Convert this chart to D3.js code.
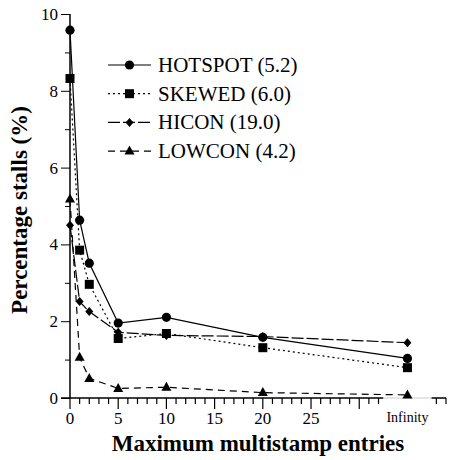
<!DOCTYPE html>
<html>
<head>
<meta charset="utf-8">
<script src="https://cdn.jsdelivr.net/npm/d3@7"></script>
<style>
    body { margin: 0; background: #fff; }
    svg { display: block; }
</style>
</head>
<body>
<div id="chart"></div>
<script>
// x positions: 0..20 real, "Infinity" placed at 35
const xValues = [0, 1, 2, 5, 10, 20, 35];
const hotspot = [9.58, 4.63, 3.51, 1.95, 2.10, 1.58, 1.03];
const skewed = [8.32, 3.85, 2.96, 1.55, 1.68, 1.31, 0.79];
const hicon = [4.50, 2.51, 2.25, 1.71, 1.63, 1.60, 1.44];
const lowcon = [5.18, 1.06, 0.51, 0.25, 0.28, 0.14, 0.08];
const seriesNames = ['HOTSPOT (5.2)', 'SKEWED (6.0)', 'HICON (19.0)', 'LOWCON (4.2)'];
const xTickLabels = ['0', '5', '10', '15', '20', '25', 'Infinity'];
const yTickLabels = ['0', '2', '4', '6', '8', '10'];

const FONT = '"Liberation Serif", "Times New Roman", serif';
const W = 455, H = 460;
const svg = d3.select('#chart').append('svg').attr('width', W).attr('height', H);

const x = d3.scaleLinear().domain([0, 39]).range([70, 446]);
const y = d3.scaleLinear().domain([0, 10]).range([398, 14]);

// y axis: minor ticks every 1, labels every 2
const yAxis = d3.axisLeft(y).tickValues(d3.range(0, 11, 1)).tickSize(5)
    .tickFormat(d => (d % 2 === 0 ? yTickLabels[d / 2] : ''));
const gy = svg.append('g').attr('transform', `translate(${x(0)},0)`).call(yAxis);
gy.attr('font-family', FONT).attr('font-size', 17);
gy.selectAll('.tick line').attr('x2', d => (d % 2 === 0 ? -9 : -5));
gy.selectAll('.tick text').attr('x', -12);
gy.select('.domain').attr('d', `M0,${y(0)}V${y(10)}`).attr('stroke-width', 1.5);

// x axis: minor ticks every 1, gap before infinity
const xTickVals = d3.range(0, 33, 1).concat([38, 39]);
const gx = svg.append('g').attr('transform', `translate(0,${y(0)})`);
gx.append('line').attr('x1', x(0) - 9).attr('x2', x(32.5)).attr('y1', 0).attr('y2', 0)
    .attr('stroke', '#000').attr('stroke-width', 1.5);
gx.append('line').attr('x1', x(32.5)).attr('x2', x(37.5)).attr('y1', 0).attr('y2', 0)
    .attr('stroke', '#ccc').attr('stroke-width', 1);
gx.append('line').attr('x1', x(37.5)).attr('x2', x(39)).attr('y1', 0).attr('y2', 0)
    .attr('stroke', '#000').attr('stroke-width', 1.5);
gx.selectAll('line.tk').data(xTickVals).enter().append('line').attr('class', 'tk')
    .attr('x1', d => x(d)).attr('x2', d => x(d))
    .attr('y1', 0).attr('y2', d => (d % 5 === 0 && d <= 30 ? 11 : 6))
    .attr('stroke', '#000').attr('stroke-width', 1.2);
const xLabPos = [0, 5, 10, 15, 20, 25, 35];
gx.selectAll('text.lb').data(xLabPos).enter().append('text').attr('class', 'lb')
    .attr('x', d => x(d)).attr('y', (d, i) => (i === 6 ? 24 : 26))
    .attr('text-anchor', 'middle').attr('font-family', FONT)
    .attr('font-size', (d, i) => (i === 6 ? 14 : 17))
    .text((d, i) => xTickLabels[i]);

// axis titles
svg.append('text').attr('x', 258).attr('y', 451).attr('text-anchor', 'middle')
    .attr('font-family', FONT).attr('font-size', 23).attr('font-weight', 'bold')
    .text('Maximum multistamp entries');
svg.append('text').attr('transform', 'translate(27,210) rotate(-90)').attr('text-anchor', 'middle')
    .attr('font-family', FONT).attr('font-size', 23).attr('font-weight', 'bold')
    .text('Percentage stalls (%)');

const series = [
    { name: seriesNames[0], values: hotspot, dash: null, marker: 'circle' },
    { name: seriesNames[1], values: skewed, dash: '2,3', marker: 'square' },
    { name: seriesNames[2], values: hicon, dash: '12,3', marker: 'diamond' },
    { name: seriesNames[3], values: lowcon, dash: '7,5', marker: 'triangle' }
];

function drawMarker(g, type, cx, cy) {
    if (type === 'circle') {
        g.append('circle').attr('cx', cx).attr('cy', cy).attr('r', 4.6).attr('fill', '#000');
    } else if (type === 'square') {
        g.append('rect').attr('x', cx - 4.5).attr('y', cy - 4.5).attr('width', 9).attr('height', 9).attr('fill', '#000');
    } else if (type === 'diamond') {
        g.append('path').attr('d', `M${cx} ${cy - 4.5} L${cx + 4} ${cy} L${cx} ${cy + 4.5} L${cx - 4} ${cy}Z`).attr('fill', '#000');
    } else {
        g.append('path').attr('d', `M${cx} ${cy - 5.5} L${cx + 5} ${cy + 3.5} L${cx - 5} ${cy + 3.5}Z`).attr('fill', '#000');
    }
}

const line = d3.line().x(d => x(d[0])).y(d => y(d[1]));
const plot = svg.append('g');
series.forEach(s => {
    const pts = xValues.map((v, i) => [v, s.values[i]]);
    plot.append('path').datum(pts).attr('d', line)
        .attr('fill', 'none').attr('stroke', '#000').attr('stroke-width', 1.2)
        .attr('stroke-dasharray', s.dash);
    pts.forEach(p => drawMarker(plot, s.marker, x(p[0]), y(p[1])));
});

// legend
const leg = svg.append('g');
series.forEach((s, i) => {
    const ly = 65 + i * 28.7;
    leg.append('line').attr('x1', 108).attr('x2', 151).attr('y1', ly).attr('y2', ly)
        .attr('stroke', '#000').attr('stroke-width', 1.2).attr('stroke-dasharray', s.dash);
    drawMarker(leg, s.marker, 129.5, ly);
    leg.append('text').attr('x', 158).attr('y', ly + 7)
        .attr('font-family', FONT).attr('font-size', 21).text(s.name);
});
</script>
</body>
</html>
